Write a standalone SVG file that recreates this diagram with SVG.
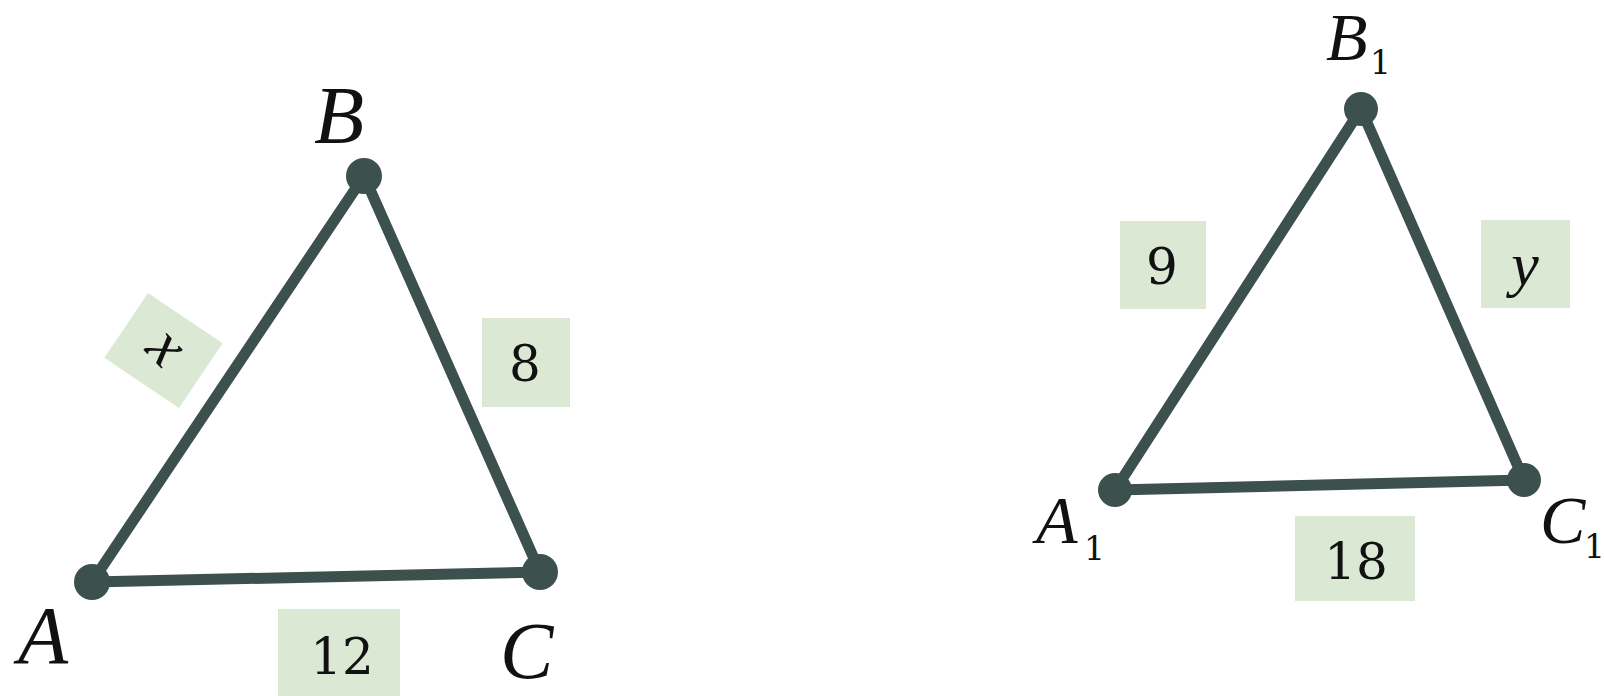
<svg xmlns="http://www.w3.org/2000/svg" width="1604" height="696" viewBox="0 0 1604 696">
<style>
.edge{stroke:#3c504e;stroke-width:11;stroke-linecap:round;fill:none}
.dot{fill:#3c504e}
.box{fill:#dbe8d3}
.lbl{font-family:"Liberation Serif",serif;font-style:italic;fill:#111}
.num{font-family:"DejaVu Serif",serif;fill:#111;text-anchor:middle;font-size:50px}
.sub{font-family:"DejaVu Serif",serif;fill:#111;font-size:33px}
</style>
<rect width="1604" height="696" fill="#fff"/>
<g id="connectors">
<line class="edge" x1="92" y1="582" x2="364" y2="176"/>
<line class="edge" x1="364" y1="176" x2="540" y2="572"/>
<line class="edge" x1="92" y1="582" x2="540" y2="572"/>
<line class="edge" x1="1115" y1="490" x2="1361" y2="109"/>
<line class="edge" x1="1361" y1="109" x2="1524" y2="480"/>
<line class="edge" x1="1115" y1="490" x2="1524" y2="480"/>
</g>
<g id="node-A"><circle class="dot" cx="92" cy="582" r="18"/><text class="lbl" x="18" y="663" font-size="82">A</text></g>
<g id="node-B"><circle class="dot" cx="364" cy="176" r="18"/><text class="lbl" x="314" y="143" font-size="82">B</text></g>
<g id="node-C"><circle class="dot" cx="540" cy="572" r="18"/><text class="lbl" x="500" y="678" font-size="80">C</text></g>
<g id="label-x" transform="translate(163.5 350.5) rotate(34)"><rect class="box" x="-45" y="-39" width="90" height="78"/><text class="lbl" x="0" y="14" font-size="62" text-anchor="middle" transform="rotate(12)">x</text></g>
<g id="label-8"><rect class="box" x="482" y="318" width="88" height="89"/><text class="num" x="525" y="381">8</text></g>
<g id="label-12"><rect class="box" x="278" y="609" width="122" height="87"/><text class="num" x="342" y="674">12</text></g>
<g id="node-A1"><circle class="dot" cx="1115" cy="490" r="17"/><text class="lbl" x="1036" y="543" font-size="68">A</text><text class="sub" x="1084" y="560">1</text></g>
<g id="node-B1"><circle class="dot" cx="1361" cy="109" r="17"/><text class="lbl" x="1326" y="60" font-size="68">B</text><text class="sub" x="1370" y="74">1</text></g>
<g id="node-C1"><circle class="dot" cx="1524" cy="480" r="17"/><text class="lbl" x="1540" y="543" font-size="68">C</text><text class="sub" x="1584" y="558">1</text></g>
<g id="label-9"><rect class="box" x="1120" y="221" width="86" height="88"/><text class="num" x="1162" y="284">9</text></g>
<g id="label-y"><rect class="box" x="1481" y="220" width="89" height="88"/><text class="lbl" x="1525" y="285" font-size="62" text-anchor="middle">y</text></g>
<g id="label-18"><rect class="box" x="1295" y="516" width="120" height="85"/><text class="num" x="1356" y="579">18</text></g>
</svg>
